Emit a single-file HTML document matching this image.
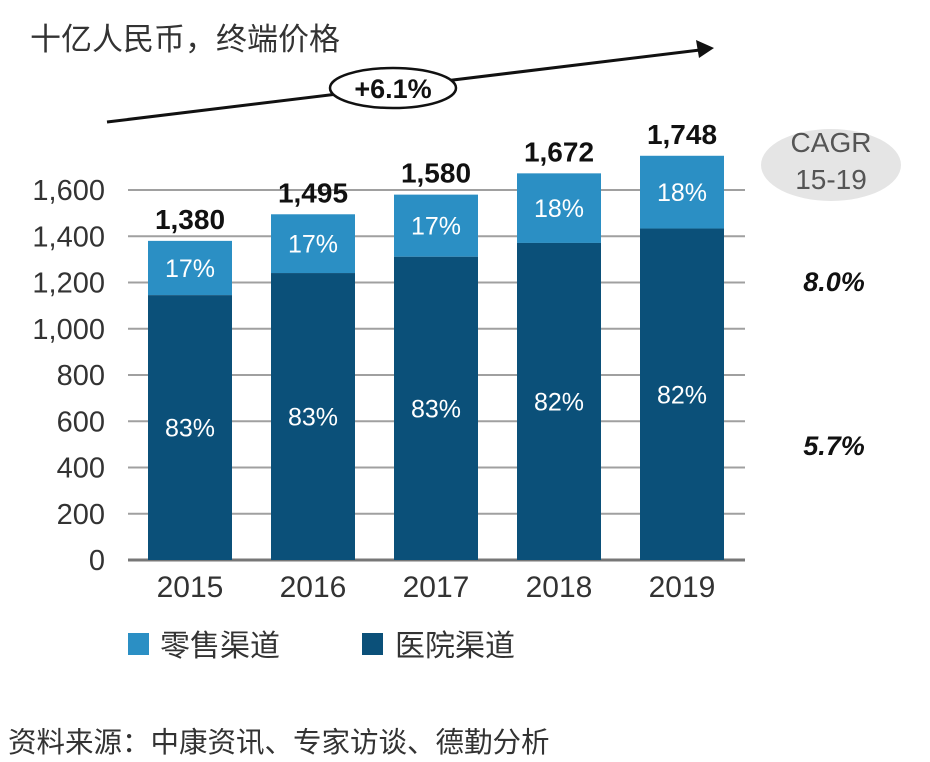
<!DOCTYPE html>
<html><head><meta charset="utf-8"><style>
body{margin:0;background:#fff;}
svg{display:block;font-family:"Liberation Sans","Noto Sans CJK SC",sans-serif;}
</style></head><body>
<svg id="chart" width="930" height="762" viewBox="0 0 930 762">
<text x="30" y="50" font-size="31" fill="#333">十亿人民币，终端价格</text>
<g>
<line x1="107" y1="122" x2="700" y2="50" stroke="#111" stroke-width="3"/>
<polygon points="714,48 696,40 699,58" fill="#111"/>
<ellipse cx="393" cy="88" rx="63" ry="20" fill="#fff" stroke="#111" stroke-width="2.5"/>
<text x="393" y="98" font-size="27" font-weight="bold" text-anchor="middle" fill="#111">+6.1%</text>
</g>
<g id="grid"></g><g id="bars"></g>
<g>
<ellipse cx="831" cy="165" rx="70" ry="36" fill="#e5e5e5"/>
<text x="831" y="152" font-size="28" text-anchor="middle" fill="#555">CAGR</text>
<text x="831" y="189" font-size="28" text-anchor="middle" fill="#555">15-19</text>
</g>
<text x="834" y="291" font-size="27" font-weight="bold" font-style="italic" text-anchor="middle" fill="#111">8.0%</text>
<text x="834" y="455" font-size="27" font-weight="bold" font-style="italic" text-anchor="middle" fill="#111">5.7%</text>
<g>
<rect x="128" y="633" width="21" height="22" fill="#2b8fc4"/>
<text x="160" y="656" font-size="30" fill="#333">零售渠道</text>
<rect x="362" y="633" width="21" height="22" fill="#0b5079"/>
<text x="395" y="656" font-size="30" fill="#333">医院渠道</text>
</g>
<text x="8" y="752" font-size="28.5" fill="#333">资料来源：中康资讯、专家访谈、德勤分析</text>
</svg>
<script>
const categories=["2015","2016","2017","2018","2019"];
const totals=[1380,1495,1580,1672,1748];
const retailShare=[17,17,17,18,18];
const hospitalShare=[83,83,83,82,82];
const yTicks=[0,200,400,600,800,1000,1200,1400,1600];
const NS="http://www.w3.org/2000/svg";
const y=v=>560-v*0.23125;
const x=i=>148+i*123;
const bw=84;
function mk(t,a,p){const e=document.createElementNS(NS,t);for(const k in a)e.setAttribute(k,a[k]);p.appendChild(e);return e;}
const grid=document.getElementById('grid'),bars=document.getElementById('bars');
yTicks.forEach(v=>{
 const l=mk('line',{x1:128,x2:745,y1:y(v),y2:y(v),stroke:v===0?'#777':'#a0a0a0','stroke-width':v===0?3:2},grid);
 
 
 const t=mk('text',{x:105,y:y(v)+10,'font-size':29,'text-anchor':'end',fill:'#333'},grid);
 t.textContent=v.toLocaleString('en-US');
 
 
});
categories.forEach((c,i)=>{
 const tot=totals[i],hosp=tot*hospitalShare[i]/100;
 const r1=mk('rect',{x:x(i),y:y(tot),width:bw,height:y(hosp)-y(tot),fill:'#2b8fc4'},bars);
 
 
 const r2=mk('rect',{x:x(i),y:y(hosp),width:bw,height:y(0)-y(hosp),fill:'#0b5079'},bars);
 
 
 const cx=x(i)+bw/2;
 const t1=mk('text',{x:cx,y:(y(tot)+y(hosp))/2+9,'font-size':25,'text-anchor':'middle',fill:'#fff'},bars);
 t1.textContent=retailShare[i]+'%';
 
 
 const t2=mk('text',{x:cx,y:(y(hosp)+y(0))/2+9,'font-size':25,'text-anchor':'middle',fill:'#fff'},bars);
 t2.textContent=hospitalShare[i]+'%';
 
 
 const t3=mk('text',{x:cx,y:y(tot)-12,'font-size':28,'font-weight':'bold','text-anchor':'middle',fill:'#111'},bars);
 t3.textContent=tot.toLocaleString('en-US');
 
 
 const t4=mk('text',{x:cx,y:597,'font-size':30,'text-anchor':'middle',fill:'#333'},bars);
 t4.textContent=c;
 
 
});
</script>
</body></html>
